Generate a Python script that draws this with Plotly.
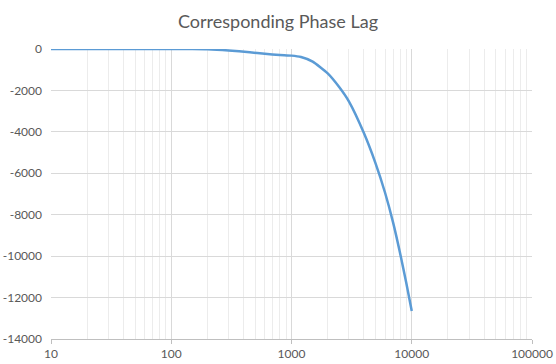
import plotly.graph_objects as go

freq = [10, 20, 50, 100, 150, 200, 300, 450, 600, 800, 1000, 1200, 1500, 2000,
        2500, 3000, 4000, 5000, 6000, 7000, 8000, 9000, 10000]
phase = [0, 0, 0, 0, -3, -12, -70, -160, -230, -290, -320, -390, -610, -1180,
         -1850, -2530, -4060, -5520, -6940, -8380, -9860, -11290, -12650]

x_tickvals = [10, 100, 1000, 10000, 100000]
x_ticktext = ["10", "100", "1000", "10000", "100000"]
x_minorvals = [m * d for d in (10, 100, 1000, 10000) for m in range(2, 10)]
y_tickvals = [0, -2000, -4000, -6000, -8000, -10000, -12000, -14000]
y_ticktext = ["0", "-2000", "-4000", "-6000", "-8000", "-10000", "-12000", "-14000"]

font_family = "Lato, 'Open Sans', sans-serif"

fig = go.Figure()
fig.add_trace(go.Scatter(
    x=freq, y=phase, mode="lines",
    line=dict(color="#5B9BD5", width=2.5, shape="spline", smoothing=0.5),
    hoverinfo="skip", showlegend=False,
))

fig.update_layout(
    width=556, height=364,
    margin=dict(l=51, r=24, t=49, b=25),
    paper_bgcolor="white", plot_bgcolor="white",
    title=dict(text="Corresponding Phase Lag", x=0.5, xanchor="center",
               y=1 - 22 / 364, yanchor="middle",
               font=dict(family=font_family, size=18, color="#595959")),
    font=dict(family=font_family, size=12, color="#595959"),
)
fig.update_xaxes(
    type="log", range=[1, 5], automargin=False,
    tickmode="array", tickvals=x_tickvals, ticktext=x_ticktext,
    showgrid=True, gridcolor="#d9d9d9", gridwidth=1,
    minor=dict(tickmode="array", tickvals=x_minorvals,
               showgrid=True, gridcolor="#ececec", gridwidth=1, ticklen=0),
    showline=True, linecolor="#bfbfbf", linewidth=1,
    ticks="outside", ticklen=4, tickcolor="#bfbfbf",
    zeroline=False,
    tickfont=dict(family=font_family, size=12, color="#595959"),
)
fig.update_yaxes(
    range=[-14000, 0], automargin=False,
    tickmode="array", tickvals=y_tickvals, ticktext=y_ticktext,
    showgrid=True, gridcolor="#d9d9d9", gridwidth=1,
    showline=False, zeroline=False,
    ticks="", ticklabelstandoff=8,
    tickfont=dict(family=font_family, size=12, color="#595959"),
)

fig.write_html("out.html",
               config={"displayModeBar": False, "staticPlot": True},
               post_script="document.body.style.margin='0';document.body.style.overflow='hidden';")
